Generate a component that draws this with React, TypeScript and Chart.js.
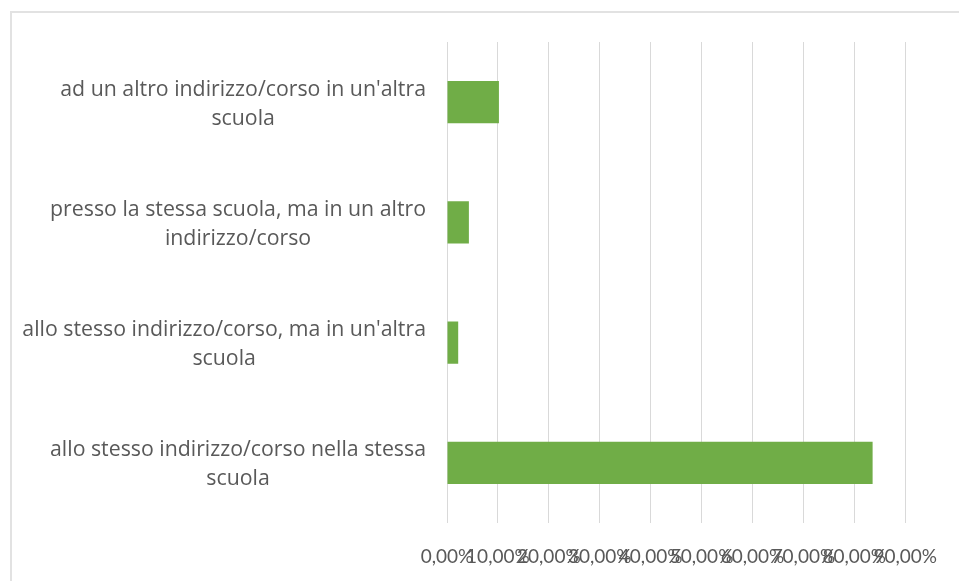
import React, { useEffect, useRef } from "react";
import { Chart, registerables } from "chart.js";

Chart.register(...registerables);

const categories: string[][] = [
  ["ad un altro indirizzo/corso in un'altra", "scuola"],
  ["presso la stessa scuola, ma in un altro", "indirizzo/corso"],
  ["allo stesso indirizzo/corso, ma in un'altra", "scuola"],
  ["allo stesso indirizzo/corso nella stessa", "scuola"],
];
const values: number[] = [10.2, 4.3, 2.2, 83.6];
const xMin = 0;
const xMax = 90;
const xStep = 10;

const CAT_FONT = "'Open Sans', Lato, sans-serif";
const TICK_FONT = "Lato, 'Noto Sans', sans-serif";
const TEXT = "#595959";

const yLabelPlugin = {
  id: "yLabels",
  afterDraw(chart: any) {
    const ys = chart.scales.y;
    const ctx = chart.ctx;
    ctx.save();
    ctx.font = `21.3px ${CAT_FONT}`;
    ctx.fillStyle = TEXT;
    ctx.textBaseline = "middle";
    ctx.textAlign = "center";
    const right = ys.right - 21;
    const lh = 29;
    categories.forEach((lines, i) => {
      const cy = ys.getPixelForTick(i) + 2;
      const w = Math.max(...lines.map((l) => ctx.measureText(l).width));
      const cx = right - w / 2;
      const y0 = cy - ((lines.length - 1) * lh) / 2;
      lines.forEach((l, j) => ctx.fillText(l, cx, y0 + j * lh));
    });
    ctx.restore();
  },
};

export default function App() {
  const ref = useRef<HTMLCanvasElement | null>(null);
  useEffect(() => {
    if (!ref.current) return;
    const chart = new Chart(ref.current, {
      type: "bar",
      data: {
        labels: categories.map((c) => c.join(" ")),
        datasets: [
          {
            data: values,
            backgroundColor: "#70AD47",
            borderWidth: 0,
            barPercentage: 0.35,
            categoryPercentage: 1,
          },
        ],
      },
      options: {
        indexAxis: "y",
        animation: false,
        responsive: false,
        layout: { padding: { top: 42, right: 53, bottom: 0, left: 0 } },
        plugins: { legend: { display: false }, tooltip: { enabled: false } },
        scales: {
          x: {
            min: xMin,
            max: xMax,
            grid: { color: "#d9d9d9", lineWidth: 1, drawTicks: false },
            border: { display: false },
            ticks: {
              stepSize: xStep,
              autoSkip: false,
              maxRotation: 0,
              minRotation: 0,
              padding: 22,
              color: TEXT,
              font: { family: TICK_FONT, size: 19 },
              callback: (v: any) => Number(v).toFixed(2).replace(".", ",") + "%",
            },
            afterFit: (s: any) => {
              s.height = 58;
            },
          },
          y: {
            grid: { display: false },
            border: { display: false },
            ticks: { display: false },
            afterFit: (s: any) => {
              s.width = 447;
            },
          },
        },
      },
      plugins: [yLabelPlugin],
    });
    return () => chart.destroy();
  }, []);
  return (
    <div
      style={{
        position: "fixed",
        left: 0,
        top: 0,
        width: 959,
        height: 581,
        background: "#fff",
        overflow: "hidden",
      }}
    >
      <div
        style={{
          position: "absolute",
          left: 10,
          top: 11,
          width: 960,
          height: 580,
          borderLeft: "2px solid #e2e2e2",
          borderTop: "2px solid #e2e2e2",
        }}
      />
      <canvas
        ref={ref}
        width={959}
        height={581}
        style={{ position: "absolute", left: 0, top: 0, width: 959, height: 581 }}
      />
    </div>
  );
}
